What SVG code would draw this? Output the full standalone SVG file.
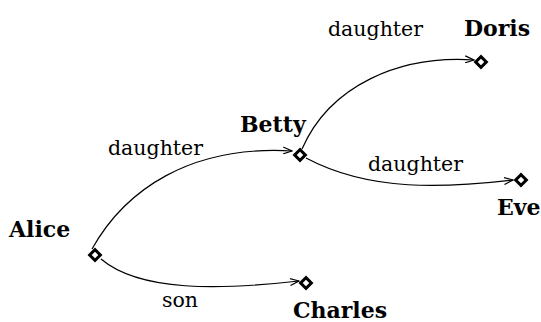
<svg xmlns="http://www.w3.org/2000/svg" width="541" height="322" viewBox="0 0 541 322">
<style>
.node-label{font-family:"DejaVu Serif",serif;font-weight:bold;font-size:22px;fill:#000}
.edge-label{font-family:"DejaVu Serif",serif;font-size:20.5px;fill:#000}
.edge{fill:none;stroke:#000;stroke-width:1.2}
.dia{fill:#fff;stroke:#000;stroke-width:3}
</style>
<defs>
<marker id="arr" viewBox="0 0 10 8" refX="9" refY="4" markerWidth="10" markerHeight="8" markerUnits="userSpaceOnUse" orient="auto">
<path d="M0,0.5 L9,4 L0,7.5" fill="none" stroke="#000" stroke-width="1.2"/>
</marker>
<rect id="d" x="-3.8" y="-3.8" width="7.6" height="7.6" transform="rotate(45)"/>
</defs>
<rect width="541" height="322" fill="#fff"/>
<g id="connectors">
<path class="edge" marker-end="url(#arr)" d="M92,249 C125,190 190,145 292,151"/>
<path class="edge" marker-end="url(#arr)" d="M302,149 C330,85 400,55 474,60"/>
<path class="edge" marker-end="url(#arr)" d="M306,158 C370,192 445,188 513,180"/>
<path class="edge" marker-end="url(#arr)" d="M101,259 C140,292 220,290 299,281"/>
<text class="edge-label" x="108" y="155">daughter</text>
<text class="edge-label" x="328" y="36">daughter</text>
<text class="edge-label" x="368" y="171">daughter</text>
<text class="edge-label" x="162" y="307">son</text>
</g>
<g id="Alice"><use href="#d" class="dia" transform="translate(95,255)"/><text class="node-label" x="9" y="237">Alice</text></g>
<g id="Betty"><use href="#d" class="dia" transform="translate(300,155)"/><text class="node-label" x="240" y="132">Betty</text></g>
<g id="Doris"><use href="#d" class="dia" transform="translate(481,62)"/><text class="node-label" x="464" y="36">Doris</text></g>
<g id="Eve"><use href="#d" class="dia" transform="translate(521,180)"/><text class="node-label" x="497" y="215">Eve</text></g>
<g id="Charles"><use href="#d" class="dia" transform="translate(306,283)"/><text class="node-label" x="293" y="318">Charles</text></g>
</svg>
